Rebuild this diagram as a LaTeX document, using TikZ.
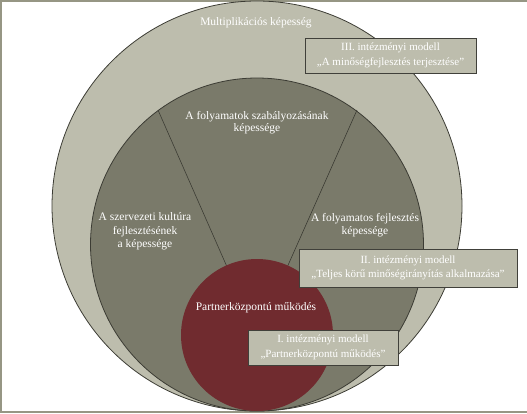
\documentclass[tikz,border=0pt]{standalone}
\usepackage{fontspec}
\setmainfont{Liberation Serif}
\definecolor{lightring}{RGB}{189,189,173}
\definecolor{midring}{RGB}{122,122,106}
\definecolor{partner}{RGB}{112,43,47}
\definecolor{ringedge}{RGB}{60,60,52}
\definecolor{boxedge}{RGB}{64,64,58}
\definecolor{framecol}{RGB}{150,150,132}
\begin{document}
\begin{tikzpicture}[x=1pt,y=-1pt,
  lbl/.style={text=white, align=center, inner sep=0pt, font=\fontsize{11.5}{13.5}\selectfont},
  modelbox/.style={draw=boxedge, line width=1pt, fill=lightring, text=white, align=center,
    inner sep=0pt, font=\fontsize{11}{14.5}\selectfont},
  ring/.style={draw=ringedge, line width=0.8pt},
  divider/.style={draw=ringedge, line width=0.6pt}]
\useasboundingbox (0,0) rectangle (527,413);
% frame
\draw[framecol, line width=2.5pt] (527,1.2) -- (1.2,1.2) -- (1.2,411.8) -- (527,411.8);
% outer ring
\filldraw[ring, fill=lightring] (257,206) circle[radius=205];
% middle disc
\filldraw[ring, fill=midring] (257,244.5) circle[radius=166.5];
% dividers
\coordinate (rc) at (257,335);
\coordinate (dl) at (158,110);
\coordinate (dr) at (357,110);
\draw[divider] (rc) -- (dl);
\draw[divider] (rc) -- (dr);
% inner disc
\fill[partner] (257,335) circle[radius=76];
% labels
\node[lbl] (mult) at (256,23) {Multiplikációs képesség};
\node[lbl, font=\fontsize{11.5}{11.5}\selectfont] (szab) at (257,122.5) {A folyamatok szabályozásának\\képessége};
\node[lbl] (kult) at (145,231.5) {A szervezeti kultúra\\fejlesztésének\\a képessége};
\node[lbl] (fejl) at (365,225) {A folyamatos fejlesztés\\képessége};
\node[lbl] (part) at (256,308) {Partnerközpontú működés};
% model boxes
\node[modelbox, minimum width=171, minimum height=35] (m3) at (390.5,55.5)
  {III. intézményi modell\\„A minőségfejlesztés terjesztése”};
\node[modelbox, minimum width=218, minimum height=38] (m2) at (408,268)
  {II. intézményi modell\\„Teljes körű minőségirányítás alkalmazása”};
\node[modelbox, minimum width=150, minimum height=35] (m1) at (323,347.5)
  {I. intézményi modell\\„Partnerközpontú működés”};
\end{tikzpicture}
\end{document}
